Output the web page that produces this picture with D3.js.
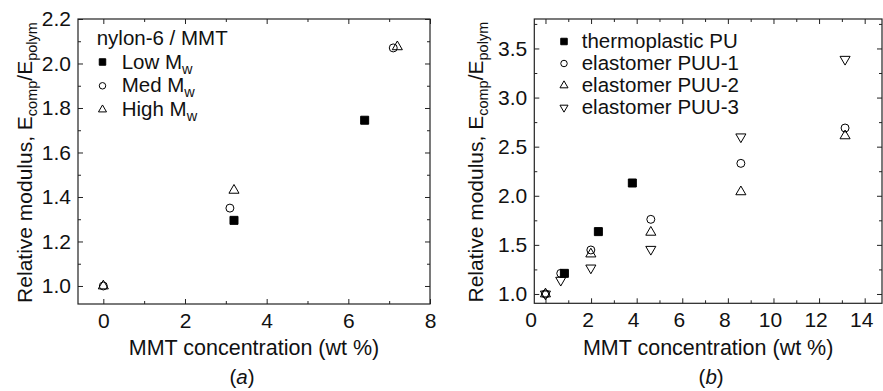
<!DOCTYPE html>
<html>
<head>
<meta charset="utf-8">
<script src="https://cdn.jsdelivr.net/npm/d3@7"></script>
<style>
  body { margin: 0; background: #fff; }
  svg { display: block; }
  text { font-family: "Liberation Sans", Arial, Helvetica, sans-serif; fill: #111; }
</style>
</head>
<body>
<svg id="chart" width="883" height="391"></svg>
<script>
// ---- panel (a): nylon-6 / MMT ----
const nylonLowX = [3.2, 6.4]
const nylonLowY = [1.295, 1.745]
const nylonMedX = [0, 3.1, 7.1]
const nylonMedY = [1.0, 1.35, 2.07]
const nylonHighX = [0, 3.2, 7.2]
const nylonHighY = [1.0, 1.43, 2.075]
const aXTicks = [0, 2, 4, 6, 8]
const aXMinor = [1, 3, 5, 7]
const aYTicks = [1.0, 1.2, 1.4, 1.6, 1.8, 2.0, 2.2]
const aYMinor = [1.1, 1.3, 1.5, 1.7, 1.9, 2.1]

// ---- panel (b): polyurethanes ----
const tpuX = [0.83, 2.32, 3.81]
const tpuY = [1.21, 1.635, 2.13]
const puu1X = [0, 0.67, 1.99, 4.62, 8.57, 13.14]
const puu1Y = [1.0, 1.21, 1.448, 1.76, 2.33, 2.69]
const puu2X = [0, 1.99, 4.62, 8.57, 13.14]
const puu2Y = [1.0, 1.407, 1.628, 2.04, 2.61]
const puu3X = [0, 0.67, 1.99, 4.62, 8.57, 13.14]
const puu3Y = [1.0, 1.14, 1.265, 1.455, 2.60, 3.39]
const bXTicks = [0, 2, 4, 6, 8, 10, 12, 14]
const bXMinor = [1, 3, 5, 7, 9, 11, 13]
const bYTicks = [1.0, 1.5, 2.0, 2.5, 3.0, 3.5]
const bYMinor = [1.25, 1.75, 2.25, 2.75, 3.25, 3.75]

const svg = d3.select('#chart')

// marker shapes
const shapes = {
    square: { type: d3.symbolSquare, fill: '#000', rot: 0 },
    circle: { type: d3.symbolCircle, fill: 'none', rot: 0 },
    up: { type: d3.symbolTriangle, fill: 'none', rot: 0 },
    down: { type: d3.symbolTriangle, fill: 'none', rot: 180 },
}
const plotSize = { square: 64, circle: 50, up: 44, down: 44 }
const legSize = { square: 42, circle: 33, up: 28, down: 28 }

function marker(g, shape, size, x, y) {
    const s = shapes[shape]
    g.append('path')
        .attr('d', d3.symbol().type(s.type).size(size)())
        .attr('transform', `translate(${x},${y}) rotate(${s.rot})`)
        .attr('fill', s.fill)
        .attr('stroke', '#000')
        .attr('stroke-width', 1)
}

function drawPanel(cfg) {
    const x = d3.scaleLinear().domain(cfg.xDomain).range([cfg.left, cfg.right])
    const y = d3.scaleLinear().domain(cfg.yDomain).range([cfg.bottom, cfg.top])
    const g = svg.append('g')
    const noDomain = sel => sel.select('.domain').remove()
    const style = sel => sel.attr('font-family', null).attr('font-size', 21)
        .selectAll('line').attr('stroke', '#222')

    // major/minor ticks, all pointing inwards, on all four sides
    g.append('g').attr('transform', `translate(0,${cfg.bottom})`)
        .call(d3.axisBottom(x).tickValues(cfg.xTicks).tickSize(-5).tickPadding(9).tickFormat(d3.format('d')))
        .call(noDomain).call(style)
        .selectAll('text').attr('dx', d => cfg.xLabelShift(d))
    g.append('g').attr('transform', `translate(0,${cfg.bottom})`)
        .call(d3.axisBottom(x).tickValues(cfg.xMinor).tickSize(-3).tickFormat(''))
        .call(noDomain).call(style)
    g.append('g').attr('transform', `translate(0,${cfg.top})`)
        .call(d3.axisTop(x).tickValues(cfg.xTicks).tickSize(-5).tickFormat(''))
        .call(noDomain).call(style)
    g.append('g').attr('transform', `translate(0,${cfg.top})`)
        .call(d3.axisTop(x).tickValues(cfg.xMinor).tickSize(-3).tickFormat(''))
        .call(noDomain).call(style)
    g.append('g').attr('transform', `translate(${cfg.left},0)`)
        .call(d3.axisLeft(y).tickValues(cfg.yTicks).tickSize(-5).tickPadding(7).tickFormat(d3.format('.1f')))
        .call(noDomain).call(style)
    g.append('g').attr('transform', `translate(${cfg.left},0)`)
        .call(d3.axisLeft(y).tickValues(cfg.yMinor).tickSize(-3).tickFormat(''))
        .call(noDomain).call(style)
    g.append('g').attr('transform', `translate(${cfg.right},0)`)
        .call(d3.axisRight(y).tickValues(cfg.yTicks).tickSize(-5).tickFormat(''))
        .call(noDomain).call(style)
    g.append('g').attr('transform', `translate(${cfg.right},0)`)
        .call(d3.axisRight(y).tickValues(cfg.yMinor).tickSize(-3).tickFormat(''))
        .call(noDomain).call(style)

    // frame
    g.append('rect')
        .attr('x', cfg.left).attr('y', cfg.top)
        .attr('width', cfg.right - cfg.left).attr('height', cfg.bottom - cfg.top)
        .attr('fill', 'none').attr('stroke', '#222').attr('stroke-width', 1.2)

    // data points
    cfg.series.forEach(s => {
        s.xs.forEach((v, i) => marker(g, s.shape, plotSize[s.shape], x(v), y(s.ys[i])))
    })

    // x title
    const cx = (cfg.left + cfg.right) / 2
    g.append('text').attr('x', cx).attr('y', 355)
        .attr('text-anchor', 'middle').attr('font-size', 21.5)
        .text('MMT concentration (wt %)')

    // y title with subscripts
    const yt = g.append('text')
        .attr('transform', `translate(${cfg.yTitleX},${(cfg.top + cfg.bottom) / 2 + 1}) rotate(-90)`)
        .attr('text-anchor', 'middle').attr('font-size', 21)
    yt.append('tspan').text('Relative modulus, E')
    yt.append('tspan').attr('dy', 5).attr('font-size', 14.5).text('comp')
    yt.append('tspan').attr('dy', -5).text('/E')
    yt.append('tspan').attr('dy', 5).attr('font-size', 14.5).text('polym')

    // panel label
    const pl = g.append('text').attr('x', cx + cfg.panelShift).attr('y', 384)
        .attr('text-anchor', 'middle').attr('font-size', 20.5)
    pl.append('tspan').text('(')
    pl.append('tspan').attr('font-style', 'italic').text(cfg.panel)
    pl.append('tspan').text(')')

    // legend
    const lg = g.append('g')
    if (cfg.legendTitle) {
        lg.append('text').attr('x', cfg.left + 18.7).attr('y', 45)
            .attr('font-size', 20.5).text(cfg.legendTitle)
    }
    cfg.series.forEach((s, i) => {
        const by = cfg.legendY0 + i * cfg.legendStep
        marker(lg, s.shape, legSize[s.shape], cfg.legendMarkX, by - 6.5)
        const t = lg.append('text').attr('x', cfg.legendTextX).attr('y', by).attr('font-size', 20.5)
        t.append('tspan').text(s.label)
        if (s.sub) t.append('tspan').attr('dy', 5).attr('font-size', 14.5).text(s.sub)
    })
}

drawPanel({
    left: 78, right: 430, top: 19, bottom: 304,
    xDomain: [-0.62, 8], yDomain: [0.919, 2.2],
    xTicks: aXTicks, xMinor: aXMinor, yTicks: aYTicks, yMinor: aYMinor,
    xLabelShift: d => 0,
    yTitleX: 32, panel: 'a', panelShift: -12,
    legendTitle: 'nylon-6 / MMT',
    legendMarkX: 102.5, legendTextX: 121.7, legendY0: 68.5, legendStep: 23.8,
    series: [
        { label: 'Low M', sub: 'w', shape: 'square', xs: nylonLowX, ys: nylonLowY },
        { label: 'Med M', sub: 'w', shape: 'circle', xs: nylonMedX, ys: nylonMedY },
        { label: 'High M', sub: 'w', shape: 'up', xs: nylonHighX, ys: nylonHighY },
    ],
})

drawPanel({
    left: 534.3, right: 882, top: 19, bottom: 303.3,
    xDomain: [-0.49, 14.76], yDomain: [0.905, 3.8],
    xTicks: bXTicks, xMinor: bXMinor, yTicks: bYTicks, yMinor: bYMinor,
    xLabelShift: d => d === 0 ? -15 : -3.5,
    yTitleX: 483, panel: 'b', panelShift: 3,
    legendTitle: null,
    legendMarkX: 564, legendTextX: 581.7, legendY0: 48, legendStep: 22,
    series: [
        { label: 'thermoplastic PU', shape: 'square', xs: tpuX, ys: tpuY },
        { label: 'elastomer PUU-1', shape: 'circle', xs: puu1X, ys: puu1Y },
        { label: 'elastomer PUU-2', shape: 'up', xs: puu2X, ys: puu2Y },
        { label: 'elastomer PUU-3', shape: 'down', xs: puu3X, ys: puu3Y },
    ],
})
</script>
</body>
</html>
